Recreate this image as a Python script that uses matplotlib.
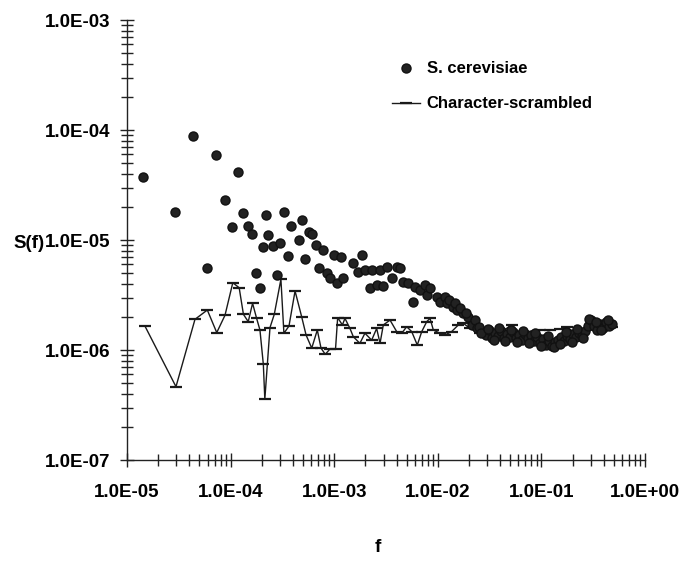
import numpy as np
import matplotlib.pyplot as plt
from matplotlib.ticker import LogLocator, FuncFormatter, NullFormatter

plt.rcParams['font.family'] = ['Liberation Sans', 'DejaVu Sans']

# S. cerevisiae spectrum
f_yeast = [1.43e-5, 2.9e-5, 4.34e-5, 5.92e-5, 7.23e-5, 8.83e-5, 1.03e-4, 1.18e-4, 1.32e-4, 1.47e-4,
           1.61e-4, 1.76e-4, 1.92e-4, 2.06e-4, 2.2e-4, 2.3e-4, 2.57e-4, 2.8e-4, 3.0e-4, 3.27e-4,
           3.58e-4, 3.83e-4, 4.57e-4, 4.89e-4, 5.23e-4, 5.71e-4, 6.11e-4, 6.67e-4, 7.13e-4, 7.8e-4,
           8.53e-4, 9.1e-4, 9.95e-4, 1.06e-3, 1.16e-3, 1.22e-3, 1.52e-3, 1.7e-3, 1.85e-3, 1.98e-3,
           2.22e-3, 2.32e-3, 2.59e-3, 2.77e-3, 2.96e-3, 3.24e-3, 3.61e-3, 4.04e-3, 4.32e-3, 4.62e-3,
           5.15e-3, 5.77e-3, 6.03e-3, 6.73e-3, 7.52e-3, 7.87e-3, 8.41e-3, 9.82e-3, 1.05e-2, 1.17e-2,
           1.23e-2, 1.4e-2, 1.53e-2, 1.75e-2, 1.96e-2, 2.14e-2, 2.29e-2, 2.39e-2, 2.73e-2, 2.92e-2,
           3.12e-2, 3.33e-2, 3.56e-2, 3.81e-2, 4.07e-2, 4.36e-2, 4.66e-2, 4.98e-2, 5.32e-2, 5.69e-2,
           6.08e-2, 6.5e-2, 6.95e-2, 7.43e-2, 7.94e-2, 8.49e-2, 9.08e-2, 9.7e-2, 0.1035, 0.1107,
           0.118, 0.1265, 0.135, 0.1445, 0.1545, 0.165, 0.1766, 0.1888, 0.2018, 0.2158,
           0.2307, 0.2466, 0.2636, 0.2818, 0.3013, 0.3221, 0.3443, 0.3681, 0.3936, 0.4207,
           0.4498, 0.4808,
           1.28e-2, 1.47e-2, 1.64e-2, 1.87e-2, 2.5e-2, 2.61e-2,
           3.02e-2, 3.45e-2, 3.94e-2, 4.5e-2, 5.14e-2, 5.87e-2, 6.71e-2, 7.67e-2, 8.77e-2, 0.1002,
           0.1146, 0.131, 0.1496, 0.171, 0.1954, 0.223, 0.255, 0.291, 0.333, 0.38,
           0.435]
s_yeast = [3.74e-5, 1.8e-5, 8.8e-5, 5.56e-6, 5.93e-5, 2.31e-5, 1.31e-5, 4.15e-5, 1.76e-5, 1.34e-5,
           1.13e-5, 5.0e-6, 3.66e-6, 8.63e-6, 1.69e-5, 1.11e-5, 8.82e-6, 4.81e-6, 9.4e-6, 1.8e-5,
           7.16e-6, 1.34e-5, 1.0e-5, 1.52e-5, 6.71e-6, 1.18e-5, 1.13e-5, 9.0e-6, 5.56e-6, 8.11e-6,
           5.0e-6, 4.52e-6, 7.31e-6, 4.06e-6, 7.0e-6, 4.52e-6, 6.18e-6, 5.12e-6, 7.31e-6, 5.33e-6,
           3.66e-6, 5.33e-6, 3.9e-6, 5.33e-6, 3.82e-6, 5.69e-6, 4.52e-6, 5.69e-6, 5.56e-6, 4.15e-6,
           4.06e-6, 2.73e-6, 3.74e-6, 3.51e-6, 3.9e-6, 3.16e-6, 3.66e-6, 3.03e-6, 2.73e-6, 3.03e-6,
           2.67e-6, 2.46e-6, 2.31e-6, 2.17e-6, 2.0e-6, 1.69e-6, 1.87e-6, 1.58e-6, 1.46e-6, 1.37e-6,
           1.52e-6, 1.29e-6, 1.43e-6, 1.34e-6, 1.49e-6, 1.29e-6, 1.40e-6, 1.31e-6, 1.46e-6, 1.29e-6,
           1.37e-6, 1.23e-6, 1.40e-6, 1.29e-6, 1.37e-6, 1.21e-6, 1.31e-6, 1.16e-6, 1.26e-6, 1.11e-6,
           1.21e-6, 1.09e-6, 1.18e-6, 1.23e-6, 1.31e-6, 1.21e-6, 1.34e-6, 1.26e-6, 1.40e-6, 1.31e-6,
           1.43e-6, 1.34e-6, 1.49e-6, 1.65e-6, 1.87e-6, 1.65e-6, 1.52e-6, 1.72e-6, 1.58e-6, 1.80e-6,
           1.65e-6, 1.72e-6,
           2.85e-6, 2.67e-6, 2.41e-6, 2.17e-6, 1.61e-6, 1.43e-6,
           1.55e-6, 1.23e-6, 1.58e-6, 1.21e-6, 1.52e-6, 1.18e-6, 1.49e-6, 1.16e-6, 1.43e-6, 1.09e-6,
           1.34e-6, 1.06e-6, 1.13e-6, 1.46e-6, 1.18e-6, 1.55e-6, 1.29e-6, 1.92e-6, 1.80e-6, 1.52e-6,
           1.87e-6]

# character-scrambled control
f_scr = [1.49e-5, 2.97e-5, 4.53e-5, 5.96e-5, 7.35e-5, 8.83e-5, 1.05e-4, 1.21e-4, 1.33e-4, 1.48e-4,
         1.63e-4, 1.78e-4, 1.92e-4, 2.07e-4, 2.14e-4, 2.4e-4, 2.64e-4, 3.06e-4, 3.27e-4, 3.66e-4,
         4.19e-4, 4.85e-4, 5.35e-4, 6.07e-4, 6.87e-4, 7.46e-4, 8.2e-4, 9.1e-4, 1.03e-3, 1.08e-3,
         1.2e-3, 1.27e-3, 1.42e-3, 1.53e-3, 1.77e-3, 1.98e-3, 2.3e-3, 2.57e-3, 2.77e-3, 2.98e-3,
         3.46e-3, 4.01e-3, 4.49e-3, 5.01e-3, 5.6e-3, 6.34e-3, 7.0e-3, 7.82e-3, 8.41e-3, 9.06e-3,
         1.05e-2, 1.17e-2, 1.36e-2, 1.58e-2, 1.76e-2, 2.05e-2, 2.55e-2, 3.19e-2, 3.98e-2, 5.16e-2,
         6.21e-2, 7.76e-2, 9.68e-2, 0.121, 0.151, 0.175, 0.211, 0.264, 0.329, 0.411,
         0.48]
s_scr = [1.65e-6, 4.64e-7, 1.9e-6, 2.31e-6, 1.44e-6, 2.07e-6, 4.09e-6, 3.68e-6, 2.11e-6, 1.81e-6,
         2.66e-6, 1.95e-6, 1.52e-6, 7.41e-7, 3.56e-7, 1.6e-6, 2.11e-6, 4.39e-6, 1.42e-6, 1.65e-6,
         3.44e-6, 2.01e-6, 1.37e-6, 1.04e-6, 1.52e-6, 1.04e-6, 9.14e-7, 1.02e-6, 1.02e-6, 1.97e-6,
         1.69e-6, 1.94e-6, 1.57e-6, 1.32e-6, 1.15e-6, 1.42e-6, 1.23e-6, 1.57e-6, 1.15e-6, 1.69e-6,
         1.87e-6, 1.47e-6, 1.42e-6, 1.63e-6, 1.47e-6, 1.11e-6, 1.47e-6, 1.81e-6, 1.94e-6, 1.52e-6,
         1.42e-6, 1.37e-6, 1.47e-6, 1.69e-6, 1.75e-6, 1.57e-6, 1.43e-6, 1.37e-6, 1.43e-6, 1.69e-6,
         1.4e-6, 1.45e-6, 1.52e-6, 1.52e-6, 1.55e-6, 1.63e-6, 1.43e-6, 1.52e-6, 1.69e-6, 1.69e-6,
         1.63e-6]

fig = plt.figure(figsize=(6.81, 5.67), dpi=100)
ax = fig.add_axes([0.1865, 0.1887, 0.7606, 0.776])

ax.plot(f_scr, s_scr, color='#1a1a1a', lw=1.0, marker='_', ms=8, mew=1.6,
        label='Character-scrambled', zorder=2)
ax.plot(f_yeast, s_yeast, ls='none', marker='o', ms=6.5, color='#222222',
        mec='#111111', label='S. cerevisiae', zorder=3)

ax.set_xscale('log')
ax.set_yscale('log')
ax.set_xlim(1e-5, 1e0)
ax.set_ylim(1e-7, 1e-3)

# Excel-style crossing ticks, only left and bottom axes
for side in ('top', 'right'):
    ax.spines[side].set_visible(False)
for side in ('left', 'bottom'):
    ax.spines[side].set_linewidth(1.0)
    ax.spines[side].set_color('#222222')

ax.xaxis.set_major_locator(LogLocator(base=10, numticks=10))
ax.yaxis.set_major_locator(LogLocator(base=10, numticks=10))
ax.xaxis.set_minor_locator(LogLocator(base=10, subs=np.arange(2, 10), numticks=20))
ax.yaxis.set_minor_locator(LogLocator(base=10, subs=np.arange(2, 10), numticks=20))
ax.xaxis.set_minor_formatter(NullFormatter())
ax.yaxis.set_minor_formatter(NullFormatter())
sci = FuncFormatter(lambda v, pos: f'{v:.1E}')
ax.xaxis.set_major_formatter(sci)
ax.yaxis.set_major_formatter(sci)

ax.tick_params(which='both', direction='inout', color='#222222', width=1.0)
ax.tick_params(which='major', length=10)
ax.tick_params(which='minor', length=8)
ax.tick_params(axis='x', which='major', pad=12, labelsize=13.5)
ax.tick_params(axis='y', which='major', pad=7, labelsize=13.5)
for lab in ax.get_xticklabels() + ax.get_yticklabels():
    lab.set_fontweight('bold')

fig.text(0.043, 0.571, 'S(f)', fontsize=13.5, fontweight='bold', ha='center', va='center')
fig.text(0.555, 0.034, 'f', fontsize=13.5, fontweight='bold', ha='center', va='center')

handles, labels = ax.get_legend_handles_labels()
leg = ax.legend(handles[::-1], labels[::-1], loc='upper left',
                bbox_to_anchor=(0.553, 0.918), bbox_transform=fig.transFigure,
                frameon=False, handlelength=1.7, labelspacing=1.2,
                handletextpad=0.4, prop={'weight': 'bold', 'size': 12})

fig.savefig('out.png', dpi=100)
